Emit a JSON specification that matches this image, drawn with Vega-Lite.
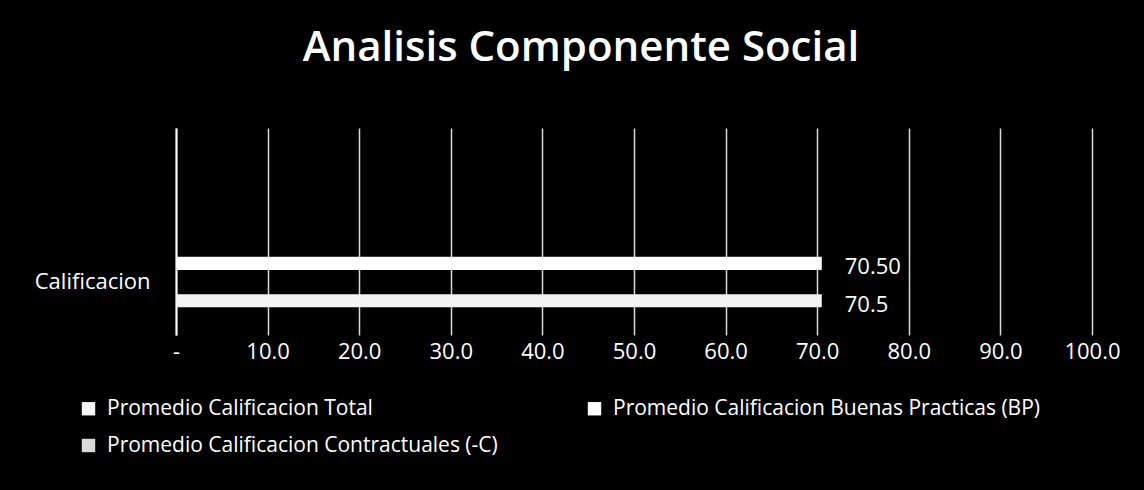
{
  "$schema": "https://vega.github.io/schema/vega-lite/v6.json",
  "autosize": {"type": "none"},
  "width": 916,
  "height": 207,
  "padding": {"left": 176, "top": 128, "right": 52, "bottom": 155},
  "background": "#000000",
  "title": {
    "text": "Analisis Componente Social",
    "color": "#ffffff",
    "font": "Open Sans",
    "fontSize": 42,
    "fontWeight": 600,
    "anchor": "middle",
    "frame": "group",
    "dx": -53,
    "offset": 58
  },
  "config": {
    "view": {"stroke": null},
    "font": "Open Sans"
  },
  "data": {
    "values": [
      {"categoria": "Calificacion", "serie": "Promedio Calificacion Total", "valor": 70.5, "etiqueta": "70.5"},
      {"categoria": "Calificacion", "serie": "Promedio Calificacion Buenas Practicas  (BP)", "valor": 70.5, "etiqueta": "70.50"},
      {"categoria": "Calificacion", "serie": "Promedio Calificacion Contractuales (-C)", "valor": null, "etiqueta": null}
    ]
  },
  "encoding": {
    "x": {
      "field": "valor",
      "type": "quantitative",
      "scale": {"domain": [0, 100], "nice": false, "zero": true},
      "axis": {
        "title": null,
        "values": [0, 10, 20, 30, 40, 50, 60, 70, 80, 90, 100],
        "labelExpr": "datum.value == 0 ? '-' : format(datum.value, '.1f')",
        "labelFlush": false,
        "labelOverlap": false,
        "labelColor": "#ffffff",
        "labelFont": "Open Sans",
        "labelFontSize": 22,
        "labelPadding": 6,
        "ticks": false,
        "domain": false,
        "grid": true,
        "gridColor": "#ffffff",
        "gridWidth": 1.5,
        "gridOpacity": 0.85
      }
    },
    "y": {
      "field": "categoria",
      "type": "nominal",
      "scale": {"paddingInner": 0, "paddingOuter": 0.885, "align": 0.882},
      "axis": {
        "title": null,
        "labelColor": "#ffffff",
        "labelFont": "Open Sans",
        "labelFontSize": 22,
        "labelPadding": 26,
        "ticks": false,
        "domain": true,
        "domainColor": "#ffffff",
        "domainWidth": 2
      }
    },
    "yOffset": {
      "field": "serie",
      "type": "nominal",
      "scale": {
        "domain": ["Promedio Calificacion Buenas Practicas  (BP)", "Promedio Calificacion Total"],
        "paddingInner": 0.65,
        "paddingOuter": 0.325
      }
    }
  },
  "layer": [
    {
      "mark": {"type": "bar"},
      "encoding": {
        "color": {
          "field": "serie",
          "type": "nominal",
          "scale": {
            "domain": ["Promedio Calificacion Total", "Promedio Calificacion Buenas Practicas  (BP)", "Promedio Calificacion Contractuales (-C)"],
            "range": ["#f4f4f4", "#ffffff", "#d9d9d9"]
          },
          "legend": {
            "title": null,
            "orient": "none",
            "legendX": -98,
            "legendY": 270,
            "direction": "horizontal",
            "columns": 2,
            "columnPadding": 86,
            "rowPadding": 15,
            "symbolType": "square",
            "symbolSize": 180,
            "symbolStrokeWidth": 0,
            "labelColor": "#ffffff",
            "labelFont": "Open Sans",
            "labelFontSize": 21,
            "labelLimit": 600,
            "labelOffset": 8
          }
        }
      }
    },
    {
      "mark": {
        "type": "text",
        "align": "left",
        "baseline": "middle",
        "dx": 23,
        "dy": 4,
        "color": "#ffffff",
        "font": "Open Sans",
        "fontSize": 22
      },
      "encoding": {
        "text": {"field": "etiqueta", "type": "nominal"}
      }
    }
  ]
}
